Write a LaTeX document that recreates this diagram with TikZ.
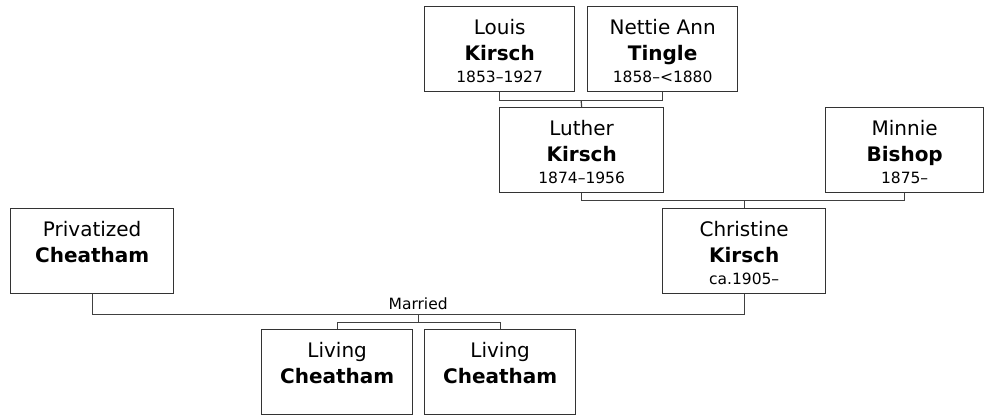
\documentclass[tikz,border=0pt]{standalone}
\usepackage{fontspec}
\setmainfont{DejaVu Sans}
\usetikzlibrary{calc}
\tikzset{
  pbox/.style={draw=black!80, line width=1.3pt, fill=white, rectangle, inner sep=0pt, minimum height=85pt, anchor=north west},
  firstname/.style={anchor=base, inner sep=0pt, font=\fontsize{20}{24}\selectfont},
  lastname/.style={anchor=base, inner sep=0pt, font=\fontsize{20}{24}\selectfont\bfseries},
  datetxt/.style={anchor=base, inner sep=0pt, font=\fontsize{15.5}{18}\selectfont},
  conn/.style={draw=black!75, line width=1.2pt},
}
\newcommand\personA[7]{%
  \node[pbox, minimum width=#4] (#1) at (#2,#3) {};
  \node[firstname] (#1a) at ($(#1.north)+(0,28)$) {#5};
  \node[lastname] (#1b) at ($(#1.north)+(0,54)$) {#6};
  \node[datetxt] (#1c) at ($(#1.north)+(0,76)$) {#7};
}
\newcommand\personB[6]{%
  \node[pbox, minimum width=#4] (#1) at (#2,#3) {};
  \node[firstname] (#1a) at ($(#1.north)+(0,28.5)$) {#5};
  \node[lastname] (#1b) at ($(#1.north)+(0,54.5)$) {#6};
}
\begin{document}
\begin{tikzpicture}[x=1pt,y=-1pt]
\fill[white] (0,0) rectangle (984,416);
\useasboundingbox (0,0) rectangle (984,416);
% persons
\personA{louis}{424}{6}{150}{Louis}{Kirsch}{1853–1927}
\personA{nettie}{587}{6}{150}{Nettie Ann}{Tingle}{1858–<1880}
\personA{luther}{499}{107}{164}{Luther}{Kirsch}{1874–1956}
\personA{minnie}{825}{107}{158}{Minnie}{Bishop}{1875–}
\personA{christine}{662}{208}{163}{Christine}{Kirsch}{ca.1905–}
\personB{priv}{10}{208}{163}{Privatized}{Cheatham}
\personB{liv1}{261}{329}{151}{Living}{Cheatham}
\personB{liv2}{424}{329}{151}{Living}{Cheatham}
% coordinates of junctions
\coordinate (j1) at ($(louis.south)!0.5!(nettie.south)+(0,8)$);
\coordinate (j2) at ($(luther.south)!0.5!(minnie.south)+(0,7)$);
\coordinate (j3) at ($(priv.south)!0.5!(christine.south)+(0,20)$);
\coordinate (j4) at ($(j3)+(0,8)$);
% connectors
\draw[conn] (louis.south) |- (j1) -| (nettie.south);
\draw[conn] (j1) -- (luther.north);
\draw[conn] (luther.south) |- (j2) -| (minnie.south);
\draw[conn] (j2) -| (christine.north);
\draw[conn] (priv.south) |- (j3) -| (christine.south);
\node[datetxt] (married) at ($(j3)+(0,-5)$) {Married};
\draw[conn] (j3) -- (j4);
\draw[conn] (liv1.north) |- (j4) -| (liv2.north);
\end{tikzpicture}
\end{document}
